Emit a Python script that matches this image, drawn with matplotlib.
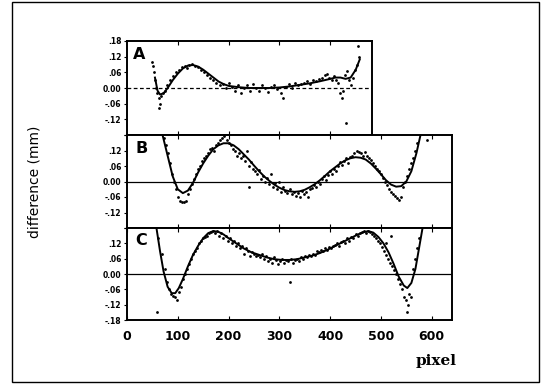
import matplotlib
matplotlib.use('Agg')
import matplotlib.pyplot as plt
from matplotlib.patches import Rectangle

# ---- data (pixel, difference in mm) ----
line_a_x = [55, 60, 65, 72, 80, 90, 100, 110, 120, 130, 140, 150, 160, 170, 180, 190, 200, 220, 240,
            260, 280, 300, 320, 340, 360, 380, 400, 410, 420, 430, 440, 450, 458]
line_a_y = [0.04, -0.01, -0.025, -0.02, 0.0, 0.03, 0.055, 0.075, 0.086, 0.088, 0.082, 0.07, 0.055, 0.04,
            0.025, 0.015, 0.008, 0.003, 0.0, 0.0, 0.0, 0.002, 0.006, 0.012, 0.018, 0.026, 0.035, 0.04,
            0.04, 0.035, 0.04, 0.07, 0.11]
pts_a_x = [50, 52, 54, 56, 58, 60, 62, 64, 63, 66, 70, 74, 78, 84, 90, 96, 102, 108, 114, 118, 122, 128,
           134, 140, 146, 152, 158, 164, 170, 176, 182, 188, 194, 200, 206, 212, 218, 224, 230, 236, 242,
           248, 254, 260, 266, 272, 278, 284, 290, 296, 302, 306, 312, 318, 324, 330, 336, 342, 348, 354,
           360, 366, 372, 378, 384, 390, 394, 398, 404, 408, 412, 416, 420, 422, 424, 428, 432, 436, 440,
           444, 448, 452, 456, 454, 430]
pts_a_y = [0.10, 0.085, 0.06, 0.03, 0.0, -0.02, -0.04, -0.06, -0.075, -0.03, -0.02, -0.01, 0.01, 0.03,
           0.045, 0.06, 0.07, 0.08, 0.085, 0.075, 0.09, 0.092, 0.085, 0.08, 0.07, 0.06, 0.05, 0.04, 0.03,
           0.02, 0.01, 0.015, 0.0, 0.02, 0.005, -0.01, 0.01, -0.02, 0.0, 0.01, -0.01, 0.015, 0.0, -0.01,
           0.01, 0.0, -0.015, 0.005, 0.01, -0.005, -0.02, -0.04, 0.005, 0.015, 0.0, 0.02, 0.01, 0.015,
           0.02, 0.025, 0.015, 0.03, 0.025, 0.035, 0.04, 0.05, 0.055, 0.04, 0.03, 0.045, 0.03, 0.02,
           -0.02, -0.04, -0.01, 0.05, 0.065, 0.03, 0.01, 0.04, 0.07, 0.09, 0.12, 0.16, -0.135]

line_b_x = [70, 80, 90, 100, 110, 120, 130, 140, 150, 160, 170, 180, 190, 200, 210, 220, 230, 240, 250,
            260, 270, 280, 290, 300, 310, 320, 330, 340, 350, 360, 370, 380, 390, 400, 410, 420, 430,
            440, 450, 460, 470, 480, 490, 500, 510, 520, 530, 540, 550, 560, 570, 578]
line_b_y = [0.18, 0.10, 0.02, -0.03, -0.045, -0.035, -0.005, 0.035, 0.07, 0.10, 0.125, 0.14, 0.148,
            0.148, 0.14, 0.125, 0.105, 0.085, 0.062, 0.04, 0.02, 0.003, -0.012, -0.024, -0.033, -0.038,
            -0.04, -0.038, -0.032, -0.022, -0.01, 0.005, 0.022, 0.04, 0.055, 0.07, 0.082, 0.09, 0.094,
            0.092, 0.085, 0.07, 0.05, 0.028, 0.005, -0.012, -0.02, -0.018, 0.0, 0.04, 0.11, 0.18]
pts_b_x = [72, 76, 80, 84, 88, 92, 96, 100, 104, 108, 112, 116, 120, 124, 128, 132, 136, 140, 144, 148,
           152, 156, 160, 164, 168, 172, 176, 180, 184, 188, 192, 196, 200, 204, 208, 212, 216, 220, 224,
           228, 232, 236, 240, 244, 248, 252, 256, 260, 264, 268, 272, 276, 280, 284, 288, 292, 296, 300,
           304, 308, 312, 316, 320, 324, 328, 332, 336, 340, 344, 348, 352, 356, 360, 364, 368, 372, 376,
           380, 384, 388, 392, 396, 400, 404, 408, 412, 416, 420, 424, 428, 432, 436, 440, 444, 448, 452,
           456, 460, 464, 468, 472, 476, 480, 484, 488, 492, 496, 500, 504, 508, 512, 516, 520, 524, 528,
           532, 536, 540, 544, 548, 552, 556, 560, 564, 568, 572, 590, 240]
pts_b_y = [0.17, 0.14, 0.11, 0.07, 0.03, 0.0, -0.03, -0.06, -0.075, -0.08, -0.08, -0.075, -0.05, -0.03,
           -0.01, 0.01, 0.03, 0.05, 0.06, 0.08, 0.09, 0.10, 0.11, 0.125, 0.13, 0.12, 0.14, 0.15, 0.16,
           0.17, 0.175, 0.16, 0.15, 0.14, 0.125, 0.12, 0.10, 0.11, 0.09, 0.10, 0.08, 0.12, 0.06, 0.075,
           0.05, 0.04, 0.03, 0.045, 0.01, 0.02, 0.0, 0.015, -0.01, 0.03, -0.02, -0.005, -0.03, 0.0, -0.04,
           -0.02, -0.035, -0.045, -0.03, -0.05, -0.04, -0.055, -0.045, -0.06, -0.035, -0.05, -0.04, -0.06,
           -0.03, -0.025, -0.015, -0.02, 0.0, -0.01, 0.01, 0.02, 0.005, 0.025, 0.04, 0.03, 0.05, 0.04,
           0.06, 0.075, 0.065, 0.08, 0.09, 0.07, 0.095, 0.10, 0.11, 0.12, 0.115, 0.11, 0.10, 0.115, 0.10,
           0.09, 0.085, 0.07, 0.06, 0.05, 0.04, 0.03, 0.015, 0.0, -0.015, -0.03, -0.04, -0.05, -0.055,
           -0.065, -0.07, -0.06, -0.02, 0.0, 0.02, 0.05, 0.07, 0.09, 0.12, 0.15, 0.16, -0.02]

line_c_x = [58, 65, 72, 80, 88, 95, 102, 110, 120, 130, 140, 150, 160, 170, 180, 190, 200, 215, 230,
            245, 260, 275, 290, 305, 320, 335, 350, 365, 380, 395, 410, 425, 440, 455, 465, 475, 485,
            495, 505, 515, 525, 535, 545, 552, 560, 568, 575, 582]
line_c_y = [0.18, 0.09, 0.01, -0.05, -0.075, -0.075, -0.055, -0.02, 0.03, 0.075, 0.11, 0.14, 0.16,
            0.168, 0.165, 0.155, 0.14, 0.12, 0.10, 0.085, 0.075, 0.065, 0.058, 0.055, 0.055, 0.058,
            0.065, 0.072, 0.082, 0.095, 0.11, 0.125, 0.14, 0.155, 0.163, 0.168, 0.162, 0.145, 0.12,
            0.085, 0.04, -0.01, -0.045, -0.055, -0.035, 0.02, 0.10, 0.18]
pts_c_x = [62, 68, 74, 78, 82, 86, 90, 94, 98, 102, 106, 110, 114, 118, 122, 126, 130, 134, 138, 142,
           146, 150, 154, 158, 162, 166, 170, 174, 178, 182, 186, 190, 194, 198, 202, 206, 210, 214, 218,
           222, 226, 230, 234, 238, 242, 246, 250, 254, 258, 262, 266, 270, 274, 278, 282, 286, 290, 294,
           298, 302, 306, 310, 314, 318, 320, 322, 326, 330, 334, 338, 342, 346, 350, 354, 358, 362, 366,
           370, 374, 378, 382, 386, 390, 394, 398, 402, 406, 410, 414, 418, 422, 426, 430, 434, 438, 442,
           446, 450, 454, 458, 462, 466, 470, 474, 478, 482, 486, 490, 494, 498, 502, 506, 510, 514, 518,
           522, 526, 530, 534, 538, 542, 546, 550, 554, 552, 556, 560, 564, 568, 572, 576, 60, 510, 520]
pts_c_y = [0.14, 0.08, 0.02, -0.03, -0.06, -0.08, -0.085, -0.09, -0.10, -0.07, -0.05, -0.02, 0.0, 0.02,
           0.04, 0.06, 0.08, 0.09, 0.10, 0.12, 0.13, 0.14, 0.145, 0.15, 0.16, 0.165, 0.17, 0.16, 0.17,
           0.15, 0.16, 0.14, 0.15, 0.13, 0.14, 0.12, 0.13, 0.11, 0.12, 0.10, 0.11, 0.08, 0.10, 0.09, 0.07,
           0.085, 0.08, 0.07, 0.075, 0.065, 0.08, 0.06, 0.07, 0.05, 0.06, 0.045, 0.065, 0.055, 0.04, 0.05,
           0.06, 0.045, 0.055, 0.05, -0.032, 0.06, 0.045, 0.055, 0.06, 0.05, 0.065, 0.06, 0.07, 0.065,
           0.075, 0.07, 0.08, 0.075, 0.09, 0.085, 0.095, 0.09, 0.10, 0.095, 0.105, 0.10, 0.11, 0.115, 0.12,
           0.11, 0.125, 0.13, 0.12, 0.14, 0.13, 0.145, 0.14, 0.155, 0.15, 0.16, 0.165, 0.17, 0.16, 0.17,
           0.165, 0.155, 0.15, 0.14, 0.13, 0.12, 0.105, 0.09, 0.075, 0.06, 0.045, 0.03, 0.015, 0.0, -0.02,
           -0.04, -0.06, -0.09, -0.10, -0.12, -0.15, -0.08, -0.09, 0.02, 0.06, 0.10, 0.14, -0.15, 0.12, 0.15]

ytick_vals = [0.18, 0.12, 0.06, 0.0, -0.06, -0.12, -0.18]
ytick_text = ['.18', '.12', '.06', '0.00', '-.06', '-.12', '-.18']
xtick_vals = [0, 100, 200, 300, 400, 500, 600]

W, H = 546.0, 384.0
fig = plt.figure(figsize=(5.46, 3.84), dpi=100)


def px_axes(x0, y0, x1, y1):
    # pixel box (top-left origin) -> figure axes
    return fig.add_axes([x0 / W, 1 - y1 / H, (x1 - x0) / W, (y1 - y0) / H])


def setup(ax, xmax, shown, letter, zero_style):
    ax.set_xlim(0, xmax)
    ax.set_ylim(-0.18, 0.18)
    for s in ax.spines.values():
        s.set_linewidth(1.4)
    ax.set_yticks(ytick_vals)
    labels = [t if t in shown else '' for t in ytick_text]
    ax.set_yticklabels(labels, fontsize=5.5, fontweight='bold')
    ax.tick_params(axis='y', direction='out', length=2.5, width=0.8, pad=1.5)
    ax.set_xticks([v for v in xtick_vals if 0 < v < xmax])
    ax.tick_params(axis='x', direction='in', length=3, width=0.8, top=True, labelbottom=False)
    ax.axhline(0, color='black', lw=0.9, ls=zero_style, zorder=1)
    ax.text(0.025, 0.86, letter, transform=ax.transAxes, fontsize=11.5, fontweight='bold',
            ha='left', va='center')


ax_a = px_axes(127, 41, 372, 135)
setup(ax_a, 482, ['.18', '.12', '.06', '0.00', '-.06', '-.12'], 'A', (0, (3, 2)))
ax_a.plot(line_a_x, line_a_y, color='black', lw=1.4, zorder=3)
ax_a.scatter(pts_a_x, pts_a_y, s=4, color='black', lw=0, zorder=2)

ax_b = px_axes(127, 135, 452, 228)
setup(ax_b, 640, ['.12', '.06', '0.00', '-.06', '-.12'], 'B', '-')
ax_b.plot(line_b_x, line_b_y, color='black', lw=1.4, zorder=3)
ax_b.scatter(pts_b_x, pts_b_y, s=4, color='black', lw=0, zorder=2)

ax_c = px_axes(127, 228, 452, 320)
setup(ax_c, 640, ['.12', '.06', '0.00', '-.06', '-.12', '-.18'], 'C', '-')
ax_c.plot(line_c_x, line_c_y, color='black', lw=1.4, zorder=3)
ax_c.scatter(pts_c_x, pts_c_y, s=4, color='black', lw=0, zorder=2)
ax_c.set_xticks(xtick_vals)
ax_c.tick_params(axis='x', labelbottom=True, labelsize=9, pad=7)
for t in ax_c.get_xticklabels():
    t.set_fontweight('bold')

fig.text(35 / W, 1 - 182 / H, 'difference (mm)', rotation=90, ha='center', va='center', fontsize=10)
fig.text(436 / W, 1 - 361 / H, 'pixel', family='DejaVu Serif', fontweight='bold', fontsize=11,
         ha='center', va='center')

fig.patches.append(Rectangle((12 / W, 1 - 382 / H), 527 / W, 380 / H, transform=fig.transFigure,
                             fill=False, edgecolor='black', lw=1.0))

fig.savefig('out.png', dpi=100)
